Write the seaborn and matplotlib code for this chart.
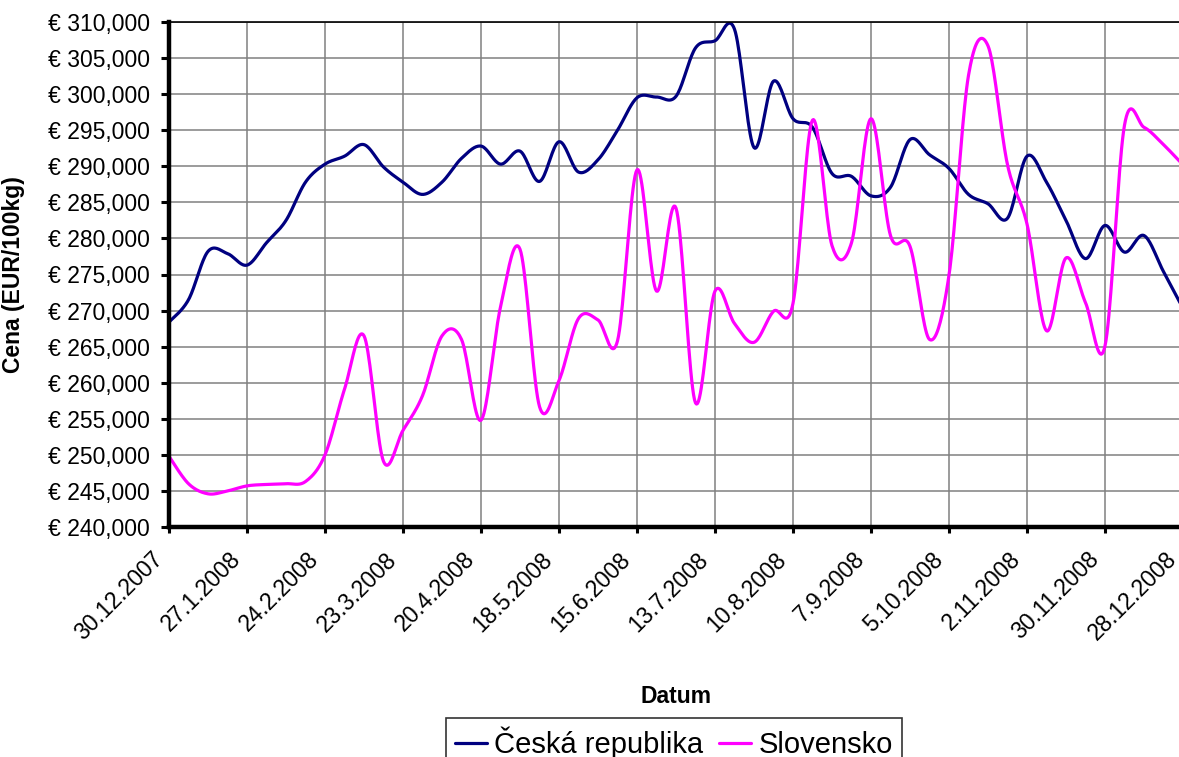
import numpy as np
import pandas as pd
import matplotlib
matplotlib.use("Agg")
import matplotlib.pyplot as plt
import matplotlib.dates as mdates
import seaborn as sns

# Weekly pig prices (EUR/100kg)
dates = pd.date_range("2007-12-30", periods=53, freq="7D")

cz_values = [
    268400, 271500, 278200, 277900, 276300, 279400, 282500, 287800, 290300, 291400,
    293000, 289900, 287800, 286100, 287800, 291100, 292800, 290300, 292100, 287900,
    293400, 289200, 290900, 295000, 299500, 299600, 299700, 306400, 307400, 309000,
    292600, 301800, 296600, 295400, 289000, 288600, 285900, 287100, 293700, 291600,
    289700, 286100, 284800, 282800, 291400, 287800, 282500, 277200, 281800, 278100,
    280400, 275400, 270300,
]
sk_values = [
    249800, 246000, 244600, 245000, 245700, 245900, 246000, 246300, 250000, 259100,
    266500, 249100, 253400, 258200, 266500, 266000, 254800, 270500, 278500, 256700,
    260300, 268900, 268700, 265800, 289500, 272700, 284200, 257200, 272700, 268200,
    265600, 269900, 271000, 296400, 279000, 279400, 296600, 280400, 278900, 266000,
    274900, 302600, 306700, 290200, 282000, 267200, 277300, 271100, 265100, 295700,
    295400, 293000, 290200,
]
series_names = ["Česká republika", "Slovensko"]
series_colors = ["#000080", "#FF00FF"]

y_ticks = list(range(240000, 310001, 5000))
tick_dates = dates[::4]
tick_labels = [f"{d.day}.{d.month}.{d.year}" for d in tick_dates]


def smooth(xs, ys, n=20):
    # Excel-like smoothed line (Catmull-Rom as cubic Bezier)
    xs = np.asarray(xs, float)
    ys = np.asarray(ys, float)
    px = np.concatenate([[xs[0]], xs, [xs[-1]]])
    py = np.concatenate([[ys[0]], ys, [ys[-1]]])
    t = np.linspace(0, 1, n, endpoint=False)[:, None]
    outx, outy = [], []
    for i in range(1, len(px) - 2):
        p0 = np.array([px[i], py[i]])
        p3 = np.array([px[i + 1], py[i + 1]])
        p1 = p0 + (np.array([px[i + 1], py[i + 1]]) - np.array([px[i - 1], py[i - 1]])) / 6
        p2 = p3 - (np.array([px[i + 2], py[i + 2]]) - np.array([px[i], py[i]])) / 6
        pts = ((1 - t) ** 3) * p0 + 3 * ((1 - t) ** 2) * t * p1 + 3 * (1 - t) * t ** 2 * p2 + t ** 3 * p3
        outx.append(pts[:, 0])
        outy.append(pts[:, 1])
    outx.append([xs[-1]])
    outy.append([ys[-1]])
    return np.concatenate(outx), np.concatenate(outy)


sns.set_style("white")
plt.rcParams["font.family"] = ["Liberation Sans", "DejaVu Sans"]
plt.rcParams["text.color"] = "black"
plt.rcParams["axes.labelcolor"] = "black"
plt.rcParams["xtick.color"] = "black"
plt.rcParams["ytick.color"] = "black"

fig = plt.figure(figsize=(11.79, 7.57), dpi=100)
ax = fig.add_axes([169 / 1179, 1 - 527 / 757, (1183 - 169) / 1179, (527 - 22) / 757])

xnum = mdates.date2num(dates)
for name, vals, col in zip(series_names, [cz_values, sk_values], series_colors):
    sx, sy = smooth(xnum, vals)
    df = pd.DataFrame({"x": sx, "y": sy})
    sns.lineplot(data=df, x="x", y="y", ax=ax, color=col, linewidth=2.3,
                 label=name, sort=False, estimator=None, legend=False)

ax.set_xlim(xnum[0], xnum[-1])
ax.set_ylim(y_ticks[0], y_ticks[-1])
ax.set_yticks(y_ticks)
ax.set_yticklabels([f"€ {v:,.0f}" for v in y_ticks], fontsize=16.5)

# x tick labels drawn as rotated annotations so they can sit left of the tick
tick_nums = mdates.date2num(tick_dates)
ax.set_xticks(tick_nums)
ax.set_xticklabels([])
for xv, lbl in zip(tick_nums, tick_labels):
    ax.annotate(lbl, xy=(xv, 0), xycoords=("data", "axes fraction"),
                xytext=(-13, -15), textcoords="offset points",
                rotation=45, ha="right", va="top", rotation_mode="anchor",
                fontsize=16.5, annotation_clip=False)

ax.grid(True, color="#808080", linewidth=1.1)
ax.set_axisbelow(True)
for side in ["left", "bottom"]:
    ax.spines[side].set_linewidth(3.2)
    ax.spines[side].set_color("black")
ax.spines["top"].set_linewidth(1.2)
ax.spines["top"].set_color("black")
ax.spines["right"].set_visible(False)
ax.tick_params(axis="y", direction="out", length=6, width=2.2, pad=8, left=True)
ax.tick_params(axis="x", direction="out", length=4, width=2.2, pad=6, bottom=True)

ax.set_xlabel("Datum", fontsize=16.5, fontweight="bold")
ax.set_ylabel("Cena (EUR/100kg)", fontsize=16.5, fontweight="bold")
ax.xaxis.set_label_coords(0.5, (1 - 685 / 757 - (1 - 527 / 757)) / ((527 - 22) / 757))
ax.yaxis.set_label_coords((25 - 169) / (1183 - 169), 0.5)

handles = ax.get_lines()[:2]
leg = fig.legend(handles, series_names, loc="upper left",
                 bbox_to_anchor=(446 / 1179, 1 - 718 / 757), borderaxespad=0,
                 ncol=2, fontsize=21, frameon=True, fancybox=False, shadow=False,
                 handlelength=1.1, handletextpad=0.25, columnspacing=0.55,
                 borderpad=0.3)
leg.get_frame().set_edgecolor("black")
leg.get_frame().set_linewidth(1.2)

fig.savefig("out.png", dpi=100)
